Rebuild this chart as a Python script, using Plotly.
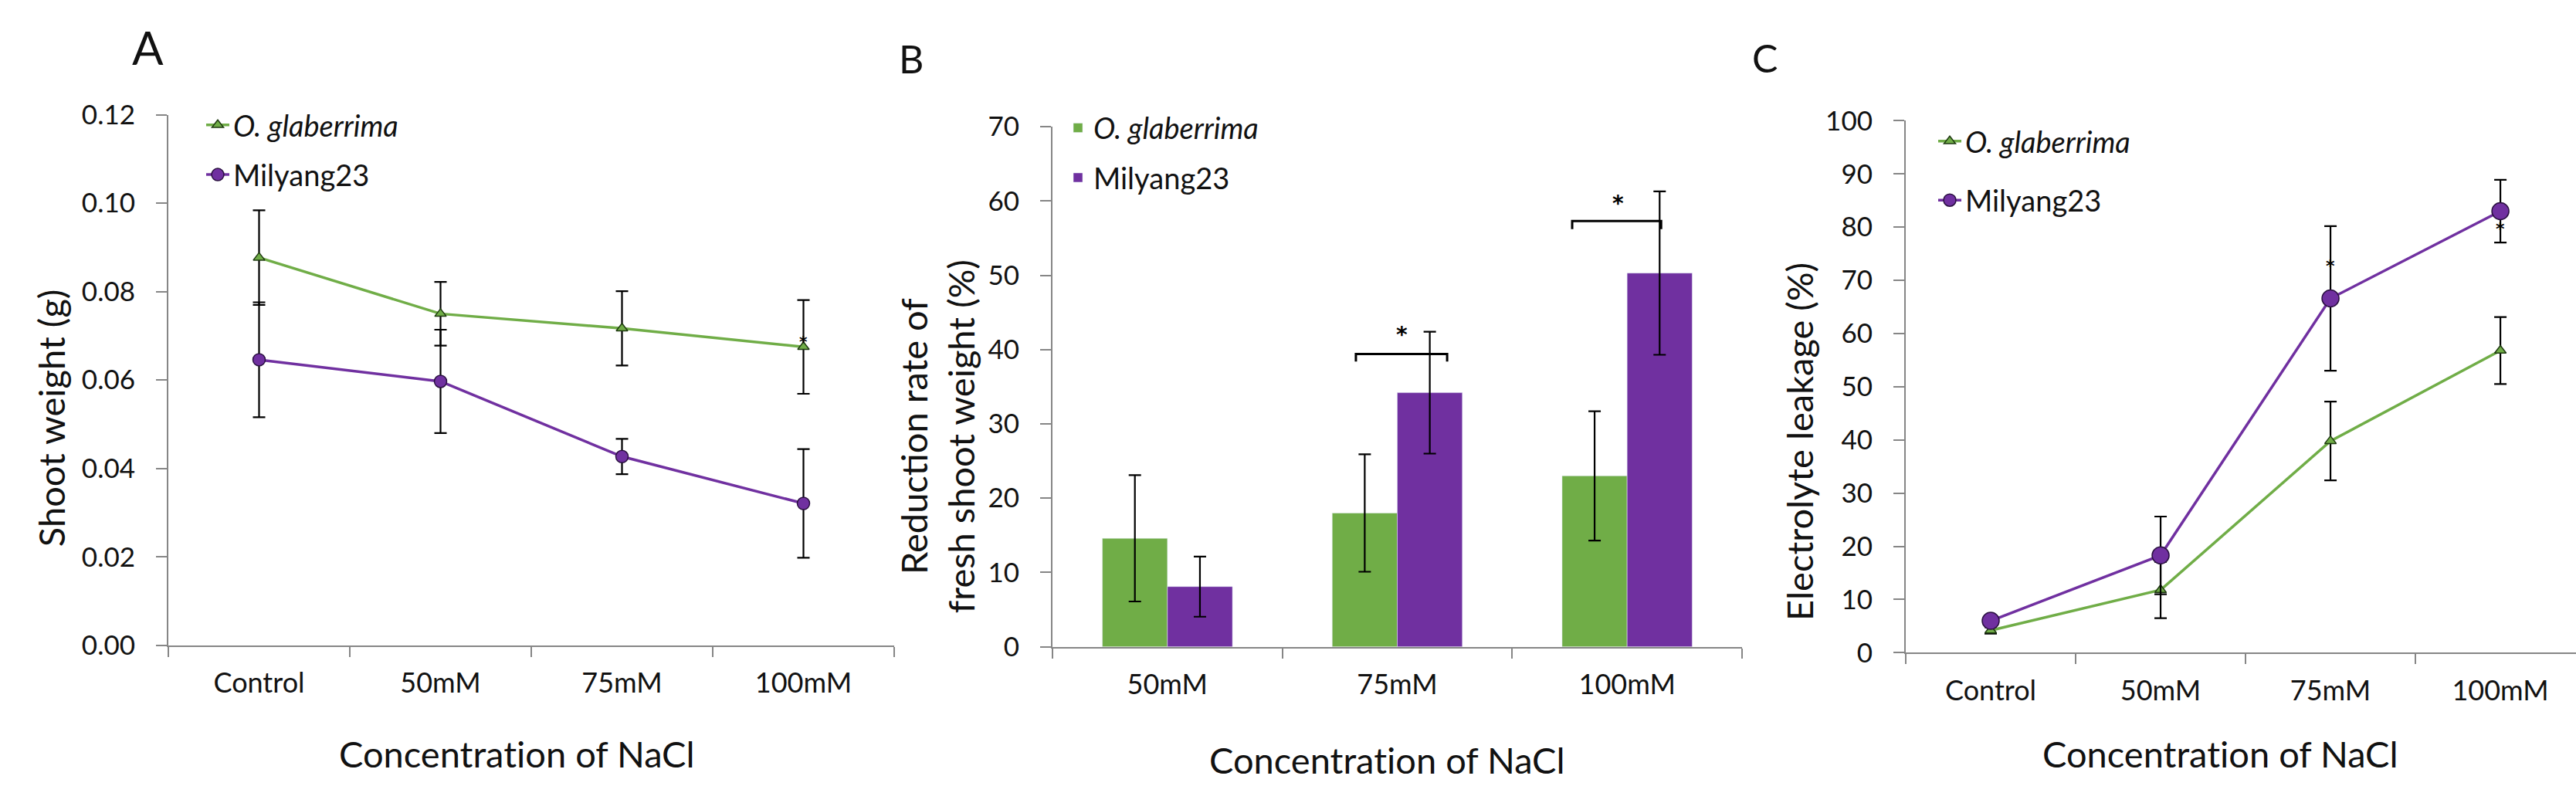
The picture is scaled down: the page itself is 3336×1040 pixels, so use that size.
import plotly.graph_objects as go

W, H = 3336, 1040

# ---------------- data ----------------
cats_A = ["Control", "50mM", "75mM", "100mM"]
A_glab = [0.0877, 0.0750, 0.0717, 0.0675]
A_glab_err = [0.0107, 0.0072, 0.0084, 0.0106]
A_mil = [0.0646, 0.0597, 0.0427, 0.0321]
A_mil_err = [0.0130, 0.0117, 0.0040, 0.0123]

cats_B = ["50mM", "75mM", "100mM"]
B_glab = [14.6, 18.0, 23.0]
B_glab_err = [8.5, 7.9, 8.7]
B_mil = [8.1, 34.2, 50.3]
B_mil_err = [4.05, 8.2, 11.0]

cats_C = ["Control", "50mM", "75mM", "100mM"]
C_glab = [4.2, 11.8, 39.8, 56.8]
C_glab_err = [0.6, 5.3, 7.4, 6.3]
C_mil = [6.0, 18.3, 66.6, 83.0]
C_mil_err = [0.5, 7.3, 13.6, 5.9]

# significance marks
A_star_x = [3]
A_star_y = [0.0698]
B_bracket_x0 = [0.82, 1.761]
B_bracket_x1 = [1.217, 2.148]
B_bracket_top = [39.4, 57.3]
B_bracket_bottom = [38.4, 56.2]
B_star_x = [1.02, 1.96]
B_star_y = [42.8, 60.5]
C_star_x = [2, 3]
C_star_y = [73.6, 80.6]

GREEN = "#70AD47"
PURPLE = "#7030A0"
AXIS = "#868686"
FONT = "Lato"
TXT = "#111111"
NOLIG = '<span style="font-variant-ligatures:none">{}</span>'

def px_x(p):
    return p / W

def px_y(p):
    return 1 - p / H

fig = go.Figure()

err_style = dict(type="data", color="black", thickness=2.2, width=8, visible=True)

# Panel A
fig.add_trace(go.Scatter(x=cats_A, y=A_glab, name="<i>O. glaberrima</i>", mode="lines+markers",
                         line=dict(color=GREEN, width=3.5),
                         marker=dict(symbol="triangle-up", size=13, color=GREEN,
                                     line=dict(color="#1e3a10", width=1.5)),
                         error_y=dict(array=A_glab_err, **err_style),
                         xaxis="x", yaxis="y", legend="legend"))
fig.add_trace(go.Scatter(x=cats_A, y=A_mil, name="Milyang23", mode="lines+markers",
                         line=dict(color=PURPLE, width=3.5),
                         marker=dict(symbol="circle", size=16, color=PURPLE,
                                     line=dict(color="#2a1040", width=1.5)),
                         error_y=dict(array=A_mil_err, **err_style),
                         xaxis="x", yaxis="y", legend="legend"))

# Panel B
fig.add_trace(go.Bar(x=cats_B, y=B_glab, name="<i>O. glaberrima</i>", marker_color=GREEN,
                     error_y=dict(array=B_glab_err, **err_style),
                     xaxis="x2", yaxis="y2", legend="legend2"))
fig.add_trace(go.Bar(x=cats_B, y=B_mil, name="Milyang23", marker_color=PURPLE,
                     error_y=dict(array=B_mil_err, **err_style),
                     xaxis="x2", yaxis="y2", legend="legend2"))

# Panel C
fig.add_trace(go.Scatter(x=cats_C, y=C_glab, name="<i>O. glaberrima</i>", mode="lines+markers",
                         line=dict(color=GREEN, width=3.5),
                         marker=dict(symbol="triangle-up", size=13, color=GREEN,
                                     line=dict(color="#1e3a10", width=1.5)),
                         error_y=dict(array=C_glab_err, **err_style),
                         xaxis="x3", yaxis="y3", legend="legend3"))
fig.add_trace(go.Scatter(x=cats_C, y=C_mil, name="Milyang23", mode="lines+markers",
                         line=dict(color=PURPLE, width=3.5),
                         marker=dict(symbol="circle", size=22, color=PURPLE,
                                     line=dict(color="#2a1040", width=1.5)),
                         error_y=dict(array=C_mil_err, **err_style),
                         xaxis="x3", yaxis="y3", legend="legend3"))

def xax(domain, rng, anchor):
    return dict(domain=domain, range=rng, anchor=anchor, type="category",
                tickson="boundaries", ticks="outside", ticklen=13, tickwidth=2,
                tickcolor=AXIS, showline=True, linecolor=AXIS, linewidth=2,
                showgrid=False, zeroline=False, fixedrange=True,
                tickfont=dict(family=FONT, size=36, color=TXT), ticklabelstandoff=16)

def yax(domain, rng, dtick, anchor, fmt=None):
    d = dict(domain=domain, range=rng, dtick=dtick, anchor=anchor,
             ticks="outside", ticklen=14, tickwidth=2, tickcolor=AXIS,
             showline=True, linecolor=AXIS, linewidth=2, showgrid=False,
             zeroline=False, tickfont=dict(family=FONT, size=35, color=TXT),
             ticklabelstandoff=20)
    if fmt:
        d["tickformat"] = fmt
    return d

def legend_cfg(x, y, gap):
    return dict(x=x, y=y, xanchor="left", yanchor="top", bgcolor="rgba(0,0,0,0)",
                font=dict(family=FONT, size=38, color=TXT), tracegroupgap=gap,
                traceorder="grouped", itemclick=False)

shapes = []
for x0, x1, yt, yb in zip(B_bracket_x0, B_bracket_x1, B_bracket_top, B_bracket_bottom):
    shapes.append(dict(type="path", xref="x2", yref="y2",
                       path=f"M {x0},{yb} L {x0},{yt} L {x1},{yt} L {x1},{yb}",
                       line=dict(color="black", width=3)))

annotations = []
def ann(text, x, y, size, **kw):
    d = dict(text=text, x=x, y=y, xref="paper", yref="paper", showarrow=False,
             font=dict(family=FONT, size=size, color=TXT), xanchor="center", yanchor="middle")
    d.update(kw)
    annotations.append(d)

# panel letters
ann("A", px_x(191), px_y(40), 60)
ann("B", px_x(1180), px_y(55), 50)
ann("C", px_x(2285), px_y(54), 50)
# x titles
xt = NOLIG.format("Concentration of NaCl")
ann(xt, px_x(669), px_y(993), 47)
ann(xt, px_x(1796), px_y(1001), 47)
ann(xt, px_x(2875), px_y(993), 47)
# y titles
ann("Shoot weight (g)", px_x(66), px_y(540), 47, textangle=-90)
ann("Reduction rate of<br>fresh shoot weight (%)", px_x(1213), px_y(565), 47, textangle=-90)
ann("Electrolyte leakage (%)", px_x(2330), px_y(572), 47, textangle=-90)

def star(x, y, xr, yr, size):
    annotations.append(dict(text="<b>*</b>", x=x, y=y, xref=xr, yref=yr, showarrow=False,
                            font=dict(family="DejaVu Sans", size=size, color="black"),
                            xanchor="center", yanchor="middle", yshift=-size * 0.28))

for x, y in zip(A_star_x, A_star_y):
    star(x, y, "x", "y", 20)
for x, y in zip(B_star_x, B_star_y):
    star(x, y, "x2", "y2", 28)
for x, y in zip(C_star_x, C_star_y):
    star(x, y, "x3", "y3", 22)

fig.update_layout(
    width=W, height=H, margin=dict(l=0, r=0, t=0, b=0),
    paper_bgcolor="white", plot_bgcolor="white",
    font=dict(family=FONT, color=TXT),
    barmode="group", bargap=0.434, bargroupgap=0,
    xaxis=xax([px_x(218), px_x(1158)], [-0.5, 3.5], "y"),
    yaxis=yax([px_y(847), px_y(131)], [0, 0.12], 0.02, "x", ".2f"),
    xaxis2=xax([px_x(1363), px_x(2256)], [-0.5, 2.5], "y2"),
    yaxis2=yax([px_y(849), px_y(147)], [0, 70], 10, "x2"),
    xaxis3=xax([px_x(2468), 1.0], [-0.5, 3.445], "y3"),
    yaxis3=yax([px_y(857), px_y(139)], [0, 100], 10, "x3"),
    legend=legend_cfg(px_x(262), px_y(112), 12),
    legend2=legend_cfg(px_x(1376), px_y(116), 12),
    legend3=legend_cfg(px_x(2505), px_y(134), 24),
    shapes=shapes, annotations=annotations, showlegend=True,
)
for i, tr in enumerate(fig.data):
    tr.legendgroup = f"g{i}"

fig.write_html("out.html")
